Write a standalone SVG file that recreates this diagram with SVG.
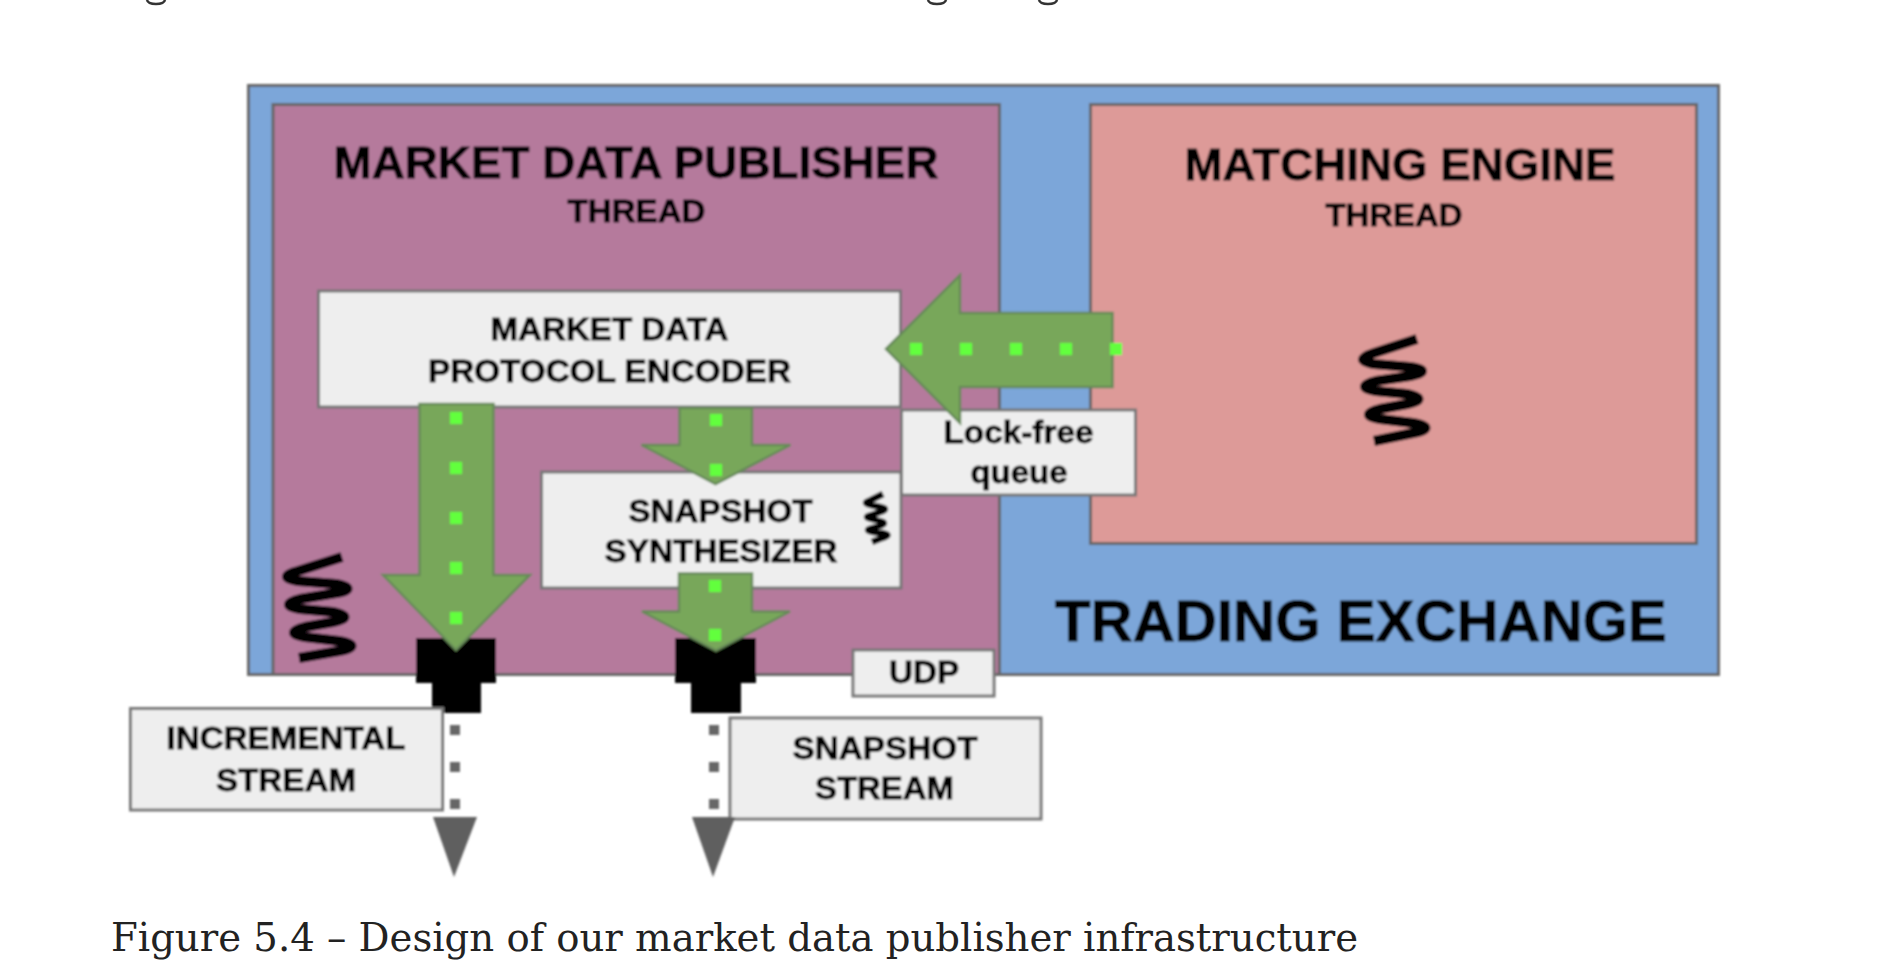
<svg xmlns="http://www.w3.org/2000/svg" width="1888" height="980" viewBox="0 0 1888 980">
<style>
text{font-family:"Liberation Sans",Arial,sans-serif;font-weight:700;fill:#000;stroke:#000;stroke-width:.8px;font-size:32px}
.t44{font-size:44px}
.t58{font-size:58px}
.box{stroke:#666;stroke-width:3}
.light{fill:#eee;stroke-width:3;stroke:#777}
.arrow{fill:#78a75a;stroke:#668a58;stroke-width:2.500;stroke-linejoin:miter}
.dot{fill:#62ff3e}
.gdot{fill:#666}
.tri{fill:#5f5f5f}
.spring{fill:none;stroke:#000;stroke-width:10;stroke-linecap:butt;stroke-linejoin:round}
.cap{font-family:"DejaVu Serif","Liberation Serif",serif;font-weight:400;fill:#222;stroke:none;font-size:39px}
.frag{fill:none;stroke:#333;stroke-width:2.500}
</style>
<defs>
<filter id="soft" filterUnits="userSpaceOnUse" x="0" y="0" width="1888" height="980"><feGaussianBlur stdDeviation="0.9"/></filter>
</defs>
<rect width="1888" height="980" fill="#fff"/>
<g filter="url(#soft)">
<g id="trading-exchange">
<rect class="box" x="248.500" y="85.500" width="1470" height="589" fill="#7ba6d9"/>
<text class="t58" x="1055" y="641" textLength="612" lengthAdjust="spacingAndGlyphs">TRADING EXCHANGE</text>
</g>
<g id="market-data-publisher">
<rect class="box" x="273" y="104.500" width="726.500" height="570" fill="#b57a9c"/>
<text class="t44" x="333.500" y="178" textLength="605" lengthAdjust="spacingAndGlyphs">MARKET DATA PUBLISHER</text>
<text x="567.500" y="222" textLength="138" lengthAdjust="spacingAndGlyphs">THREAD</text>
<path class="spring" d="M342 557L298 571Q276 577 298 581L336 584Q359 589 336 593L300 599Q278 605 300 609L333 612Q356 617 333 622L305 627Q283 633 305 637L339 641Q364 646 339 651L299 658"/>
</g>
<g id="matching-engine">
<rect class="box" x="1090.500" y="104.500" width="606" height="439" fill="#dd9a98"/>
<text class="t44" x="1184.500" y="180" textLength="431" lengthAdjust="spacingAndGlyphs">MATCHING ENGINE</text>
<text x="1325.500" y="226" textLength="137" lengthAdjust="spacingAndGlyphs">THREAD</text>
<path class="spring" d="M1417 339L1374 353Q1352 360 1374 364L1410 367Q1434 371 1410 376L1376 381Q1354 387 1376 391L1407 394Q1430 399 1407 404L1380 409Q1358 415 1380 419L1413 423Q1438 428 1413 433L1374 441"/>
</g>
<g id="protocol-encoder">
<rect class="light" x="318.500" y="291" width="582" height="116"/>
<text x="490.500" y="340" textLength="238" lengthAdjust="spacingAndGlyphs">MARKET DATA</text>
<text x="428" y="382" textLength="363" lengthAdjust="spacingAndGlyphs">PROTOCOL ENCODER</text>
</g>
<g id="lock-free-queue">
<rect class="light" x="901.500" y="410" width="234" height="85"/>
<text x="943.500" y="443" textLength="150" lengthAdjust="spacingAndGlyphs">Lock-free</text>
<text x="970.500" y="483" textLength="97" lengthAdjust="spacingAndGlyphs">queue</text>
</g>
<g id="snapshot-synthesizer">
<rect class="light" x="541.500" y="472" width="359.500" height="116"/>
<text x="628.500" y="522" textLength="184" lengthAdjust="spacingAndGlyphs">SNAPSHOT</text>
<text x="604.500" y="562" textLength="233" lengthAdjust="spacingAndGlyphs">SYNTHESIZER</text>
<path class="spring" style="stroke-width:6.500" d="M883 494L871 500Q861 503 871 505L880 507Q890 509 880 512L872 515Q862 517 872 519L879 521Q889 523 879 526L873 528Q863 530 873 532L882 533Q893 535 882 538L872 542"/>
</g>
<g id="udp">
<rect class="light" x="853" y="650" width="141" height="46"/>
<text x="889" y="683" textLength="70" lengthAdjust="spacingAndGlyphs">UDP</text>
</g>
<g id="socket-incremental">
<path d="M416 638H496V683H481V713H432V683H416Z" fill="#000"/>
</g>
<g id="socket-snapshot">
<path d="M675 638H756V683H741V713H691V683H675Z" fill="#000"/>
</g>
<g id="incremental-stream">
<rect class="light" x="130.500" y="708.500" width="312" height="101.500"/>
<text x="166.500" y="749" textLength="239" lengthAdjust="spacingAndGlyphs">INCREMENTAL</text>
<text x="216" y="791" textLength="140" lengthAdjust="spacingAndGlyphs">STREAM</text>
</g>
<g id="snapshot-stream">
<rect class="light" x="730" y="718" width="311" height="101"/>
<text x="792.500" y="759" textLength="185" lengthAdjust="spacingAndGlyphs">SNAPSHOT</text>
<text x="815" y="799" textLength="139" lengthAdjust="spacingAndGlyphs">STREAM</text>
</g>
<g id="connectors">
<path class="arrow" d="M886 349L960 275V313H1112.500V387H960V423Z"/>
<g class="dot">
<rect x="910" y="343" width="12" height="12"/><rect x="960" y="343" width="12" height="12"/><rect x="1010" y="343" width="12" height="12"/><rect x="1060" y="343" width="12" height="12"/><rect x="1110" y="343" width="12" height="12"/>
</g>
<path class="arrow" d="M419.500 404H493.500V575H530L456 650L383 575H419.500Z"/>
<g class="dot">
<rect x="450" y="412" width="12" height="12"/><rect x="450" y="462" width="12" height="12"/><rect x="450" y="512" width="12" height="12"/><rect x="450" y="562" width="12" height="12"/><rect x="450" y="612" width="12" height="12"/>
</g>
<path class="arrow" d="M679.500 408H752V445H790.500L715.500 484L641.500 445H679.500Z"/>
<g class="dot">
<rect x="710" y="414" width="12" height="12"/><rect x="710" y="464" width="12" height="12"/>
</g>
<path class="arrow" d="M679 573.500H752V611.500H790L716 650.500L642 611.500H679Z"/>
<g class="dot">
<rect x="709" y="580" width="12" height="12"/><rect x="709" y="629" width="12" height="12"/>
</g>
<g class="gdot">
<rect x="450" y="725" width="10" height="10"/><rect x="450" y="762" width="10" height="10"/><rect x="450" y="799" width="10" height="10"/>
<rect x="709" y="725" width="10" height="10"/><rect x="709" y="762" width="10" height="10"/><rect x="709" y="799" width="10" height="10"/>
</g>
<path class="tri" d="M433 817H477L454 877Z"/>
<path class="tri" d="M692 817H735L713 877Z"/>
</g>
</g>
<g id="top-edge-marks">
<path class="frag" d="M147 0Q148 4 156 4Q164 4 165 0"/>
<path class="frag" d="M928 0Q929 4 937 4Q945 4 946 0"/>
<path class="frag" d="M1039 0Q1040 4 1048 4Q1056 4 1057 0"/>
</g>
<g id="caption">
<text class="cap" x="111" y="951" textLength="1247" lengthAdjust="spacingAndGlyphs">Figure 5.4 – Design of our market data publisher infrastructure</text>
</g>
</svg>
